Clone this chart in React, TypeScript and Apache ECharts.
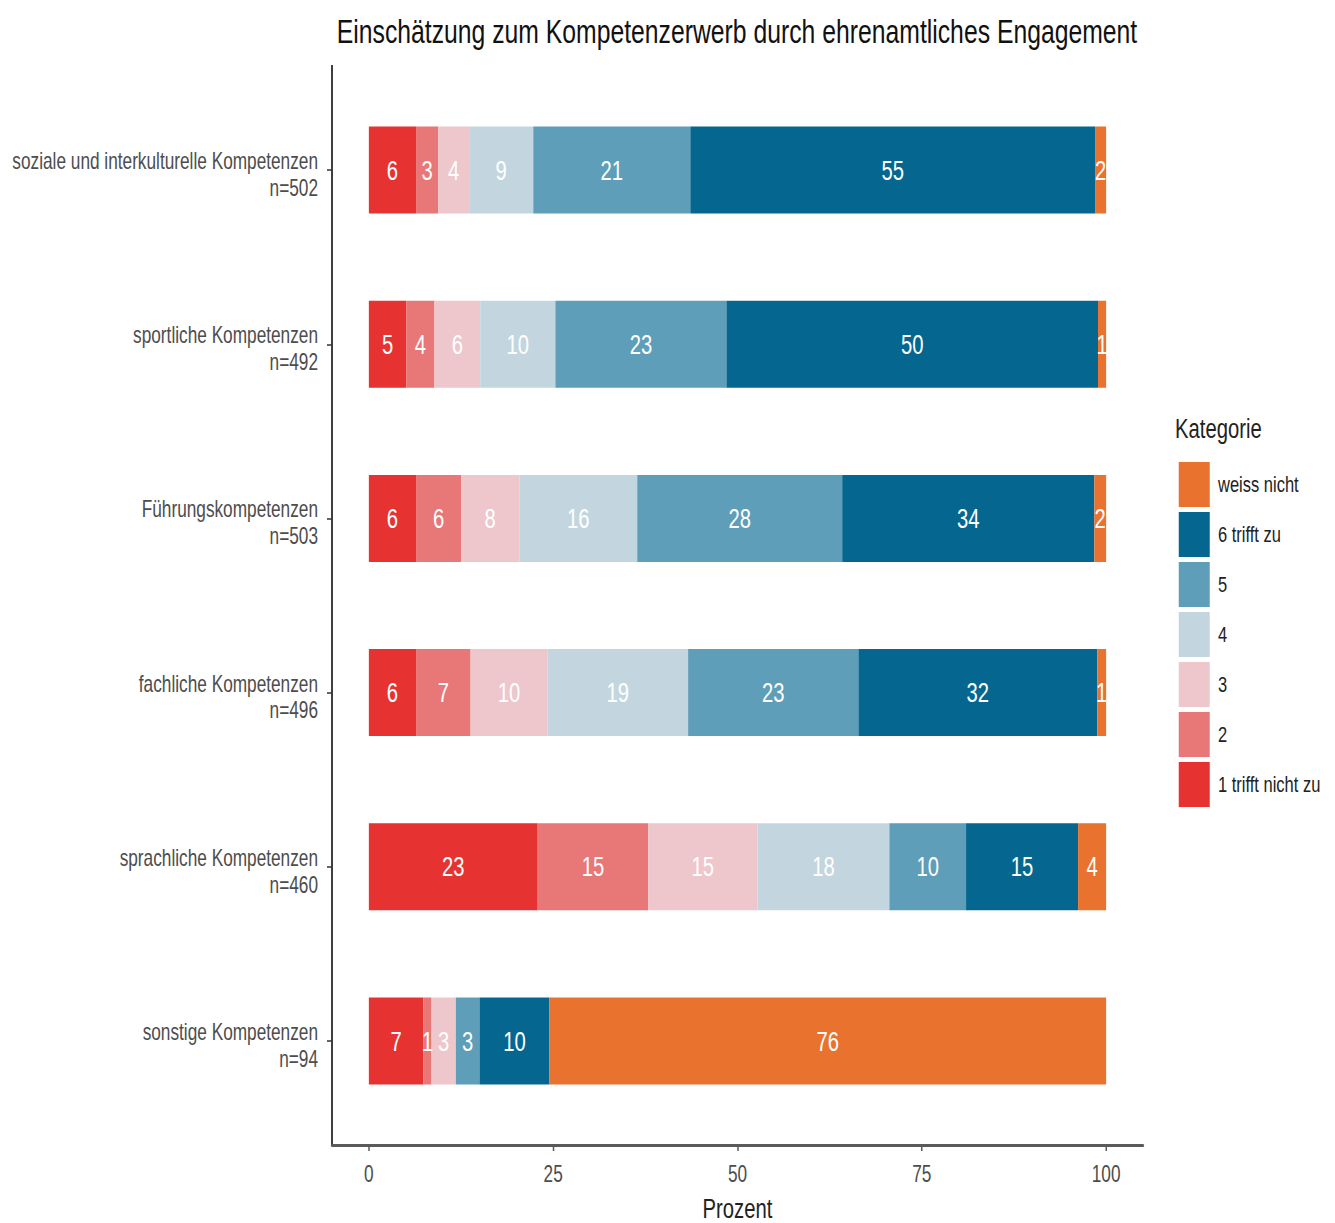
import React, { useEffect, useRef } from "react";
import * as echarts from "echarts";

// Rows of the chart, top to bottom
const competences = [
  "soziale und interkulturelle Kompetenzen\nn=502",
  "sportliche Kompetenzen\nn=492",
  "Führungskompetenzen\nn=503",
  "fachliche Kompetenzen\nn=496",
  "sprachliche Kompetenzen\nn=460",
  "sonstige Kompetenzen\nn=94",
];

// Answer categories, in stacking order (left to right)
const categories = ["1 trifft nicht zu", "2", "3", "4", "5", "6 trifft zu", "weiss nicht"];
const categoryColors = ["#E63231", "#E87777", "#EDC7CB", "#C3D6E0", "#5E9EB8", "#05678F", "#E8722E"];

// Percent per row for each answer category
const share1 = [6.4, 5.1, 6.4, 6.4, 22.9, 7.4];
const share2 = [3.0, 3.8, 6.1, 7.4, 15.0, 1.1];
const share3 = [4.2, 6.2, 7.9, 10.4, 14.8, 3.3];
const share4 = [8.7, 10.2, 16.0, 19.1, 17.9, 0];
const share5 = [21.3, 23.2, 27.8, 23.1, 10.4, 3.2];
const share6 = [54.9, 50.4, 34.2, 32.4, 15.2, 9.5];
const shareUnknown = [1.5, 1.1, 1.6, 1.2, 3.8, 75.5];

const xTicks = [0, 25, 50, 75, 100];

const FONT = '"Liberation Sans", Arial, sans-serif';

// The chart is laid out on a wider canvas and narrowed horizontally,
// which gives the tall, condensed lettering of the figure.
const SQUEEZE = 0.75;
const PAGE_W = 1335;
const PAGE_H = 1223;
const CANVAS_W = PAGE_W / SQUEEZE;
const px = (x: number) => x / SQUEEZE;

export default function App() {
  const ref = useRef<HTMLDivElement>(null);

  useEffect(() => {
    if (!ref.current) return;
    const chart = echarts.init(ref.current, null, { renderer: "svg" });
    const shares = [share1, share2, share3, share4, share5, share6, shareUnknown];

    const series = categories.map((name, i) => ({
      name,
      type: "bar",
      stack: "total",
      barWidth: 87,
      data: shares[i],
      itemStyle: { color: categoryColors[i] },
      label: {
        show: true,
        position: "inside",
        color: "#ffffff",
        fontFamily: FONT,
        fontSize: 27,
        formatter: (p: any) => (p.value > 0 ? String(Math.round(p.value)) : ""),
      },
    }));

    const plotLeft = px(332);
    const plotRight = px(1143);

    chart.setOption({
      animation: false,
      backgroundColor: "#ffffff",
      textStyle: { fontFamily: FONT },
      grid: {
        left: plotLeft,
        width: plotRight - plotLeft,
        top: 83,
        height: 1045,
        containLabel: false,
        outerBoundsMode: "none",
      },
      xAxis: {
        type: "value",
        min: -5,
        max: 105,
        offset: 17,
        splitLine: { show: false },
        axisLine: { show: true, lineStyle: { color: "#5a5a5a", width: 3 } },
        axisTick: { show: true, customValues: xTicks, length: 6, lineStyle: { color: "#5a5a5a", width: 2 } },
        axisLabel: {
          customValues: xTicks,
          fontFamily: FONT,
          fontSize: 23,
          color: "#4d4d4d",
          margin: 18,
        },
        name: "Prozent",
        nameLocation: "middle",
        nameGap: 50,
        nameTextStyle: { fontFamily: FONT, fontSize: 27, color: "#222222" },
      },
      yAxis: {
        type: "category",
        inverse: true,
        data: competences,
        axisLine: { show: false, onZero: false },
        axisTick: { show: true, alignWithLabel: true, length: px(5), lineStyle: { color: "#333333", width: 1.5 } },
        axisLabel: {
          fontFamily: FONT,
          fontSize: 23,
          color: "#4d4d4d",
          margin: px(14),
          align: "right",
          // a short spacer line on top sets the two-line label slightly below the tick
          formatter: (value: string) =>
            "{gap| }\n" + value.split("\n").map((line) => `{t|${line}}`).join("\n"),
          rich: {
            gap: { fontSize: 4, lineHeight: 9 },
            t: { fontFamily: FONT, fontSize: 23, lineHeight: 27, color: "#4d4d4d", align: "right" },
          },
        },
      },
      legend: {
        orient: "vertical",
        left: px(1175),
        top: 457,
        itemWidth: px(31),
        itemHeight: 45,
        itemGap: 5,
        icon: "rect",
        data: categories.slice().reverse(),
        textStyle: { fontFamily: FONT, fontSize: 22, color: "#222222", padding: [0, 0, 0, 6] },
      },
      graphic: [
        {
          type: "text",
          x: px(737),
          y: 32,
          style: {
            text: "Einschätzung zum Kompetenzerwerb durch ehrenamtliches Engagement",
            fontFamily: FONT,
            fontSize: 33,
            fill: "#111111",
            align: "center",
            verticalAlign: "middle",
          },
        },
        {
          type: "text",
          x: px(1175),
          y: 428,
          style: {
            text: "Kategorie",
            fontFamily: FONT,
            fontSize: 27,
            fill: "#222222",
            align: "left",
            verticalAlign: "middle",
          },
        },
        {
          type: "line",
          shape: { x1: plotLeft, y1: 65, x2: plotLeft, y2: 1145 },
          style: { stroke: "#333333", lineWidth: 2.5 },
        },
      ],
      series,
    });

    return () => chart.dispose();
  }, []);

  return (
    <div
      style={{
        position: "absolute",
        left: 0,
        top: 0,
        width: PAGE_W,
        height: PAGE_H,
        overflow: "hidden",
        background: "#ffffff",
      }}
    >
      <div
        ref={ref}
        style={{
          width: CANVAS_W,
          height: PAGE_H,
          transform: `scaleX(${SQUEEZE})`,
          transformOrigin: "0 0",
        }}
      />
    </div>
  );
}
